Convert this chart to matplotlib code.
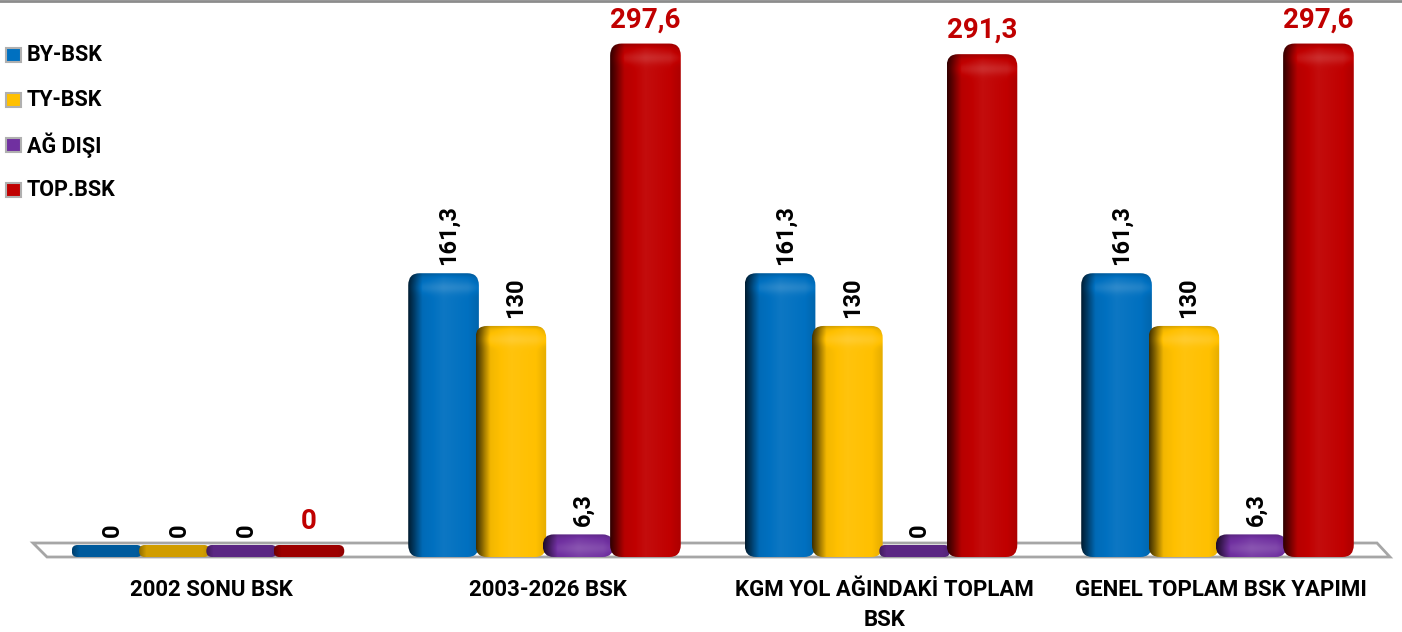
import numpy as np
import matplotlib.pyplot as plt
from matplotlib.patches import FancyBboxPatch, Polygon, Rectangle
from matplotlib.lines import Line2D
from matplotlib.colors import to_rgb

plt.rcParams['font.family'] = ['Roboto', 'DejaVu Sans']

# veriler
categories = ['2002 SONU BSK', '2003-2026 BSK', 'KGM YOL AĞINDAKİ TOPLAM\nBSK', 'GENEL TOPLAM BSK YAPIMI']
series = ['BY-BSK', 'TY-BSK', 'AĞ DIŞI', 'TOP.BSK']
by_bsk = [0, 161.3, 161.3, 161.3]
ty_bsk = [0, 130, 130, 130]
ag_disi = [0, 6.3, 0, 6.3]
top_bsk = [0, 297.6, 291.3, 297.6]
labels_by = ['0', '161,3', '161,3', '161,3']
labels_ty = ['0', '130', '130', '130']
labels_ag = ['0', '6,3', '0', '6,3']
labels_top = ['0', '297,6', '291,3', '297,6']
colors = ['#0070C0', '#FFC000', '#7030A0', '#C00000']

values = [by_bsk, ty_bsk, ag_disi, top_bsk]
value_labels = [labels_by, labels_ty, labels_ag, labels_top]

W, H = 1402, 632
PX_X = 336.5   # piksel / kategori
PX_Y = 1.685   # piksel / birim
X0_PX = 208    # kategori 0 merkezi
Y0_PX = 545    # y=0 seviyesi (ustten)

fig = plt.figure(figsize=(W / 100, H / 100), dpi=100)
ax = fig.add_axes([0, 0, 1, 1])
xlim = (-X0_PX / PX_X, (W - X0_PX) / PX_X)
ylim = (-(H - Y0_PX) / PX_Y, Y0_PX / PX_Y)
ax.axis('off')

depth = 12 / PX_Y      # 3B taban derinligi
bar_w = 0.21
r_x = 0.034
aspect = (12 / PX_Y) / r_x


def shade(color, f):
    c = np.array(to_rgb(color))
    if f >= 1:
        return c + (1 - c) * (f - 1)
    return c * f


def draw_bar(xc, v, color, z):
    bottom = -depth
    h = v + depth
    x0 = xc - bar_w / 2
    rs = min(r_x, (h * 0.5) / aspect)
    patch = FancyBboxPatch((x0, bottom), bar_w, h,
                           boxstyle=f"round,pad=0,rounding_size={rs}",
                           mutation_aspect=aspect, fc='none', ec='none', zorder=z)
    ax.add_patch(patch)
    nx, ny = 80, 300
    t = np.linspace(0, 1, nx)
    hf = np.interp(t, [0, 0.06, 0.2, 0.5, 0.85, 1.0], [0.25, 0.45, 0.95, 1.05, 1.0, 0.9])
    ypix = np.linspace(0, h * PX_Y, ny)
    dist_top = h * PX_Y - ypix
    vf = 1 + 0.12 * np.exp(-((dist_top - 14) / 6) ** 2) - 0.15 * np.exp(-(dist_top / 3) ** 2)
    if v < 1:
        vf = np.full(ny, 0.82)
        hf = np.interp(t, [0, 0.1, 0.9, 1], [0.7, 1.0, 1.0, 0.9])
    img = np.zeros((ny, nx, 3))
    for j in range(ny):
        for i in range(nx):
            img[j, i] = np.clip(shade(color, hf[i] * vf[j]), 0, 1)
    im = ax.imshow(img, extent=[x0, x0 + bar_w, bottom, v], origin='lower',
                   aspect='auto', interpolation='bilinear', zorder=z)
    im.set_clip_path(patch)


# zemin
floor = Polygon([[(33 - X0_PX) / PX_X, (Y0_PX - 543) / PX_Y],
                 [(1377 - X0_PX) / PX_X, (Y0_PX - 543) / PX_Y],
                 [(1390 - X0_PX) / PX_X, (Y0_PX - 557) / PX_Y],
                 [(47 - X0_PX) / PX_X, (Y0_PX - 557) / PX_Y]],
                closed=True, fc='white', ec='#a6a6a6', lw=2, zorder=1)
ax.add_patch(floor)

x = np.arange(len(categories))
offsets = np.array([-1.5, -0.5, 0.5, 1.5]) * 0.2
for s, (vals, labs, col) in enumerate(zip(values, value_labels, colors)):
    for k in range(len(categories)):
        xc = x[k] + offsets[s]
        draw_bar(xc, vals[k], col, 2 + s)
        if s == 3:
            ax.text(xc, vals[k] + 6, labs[k], ha='center', va='bottom',
                    fontsize=20, fontweight='bold', color='#C00000', zorder=10)
        else:
            ax.text(xc + 0.015, vals[k] + 5, labs[k], ha='center', va='bottom',
                    rotation=90, fontsize=17, fontweight='bold', color='black', zorder=10)

for k, cat in enumerate(categories):
    ax.text(x[k] + 0.01, (Y0_PX - 579) / PX_Y, cat, ha='center', va='top',
            fontsize=16, fontweight='bold', linespacing=1.5, zorder=10)

ax.set_xlim(*xlim)
ax.set_ylim(*ylim)

# lejant
for i, (name, col) in enumerate(zip(series, colors)):
    yc = 1 - (55 + 45 * i) / H
    fig.add_artist(Rectangle((6 / W, yc - 7 / H), 15 / W, 14 / H,
                             transform=fig.transFigure, fc=col, ec='#b0b0b0', lw=1.5))
    fig.text(27 / W, yc, name, ha='left', va='center', fontsize=15.5, fontweight='bold')

fig.add_artist(Line2D([0, 1], [1 - 1 / H, 1 - 1 / H], transform=fig.transFigure,
                      color='#8c8c8c', lw=2))

fig.savefig('out.png', dpi=100)
